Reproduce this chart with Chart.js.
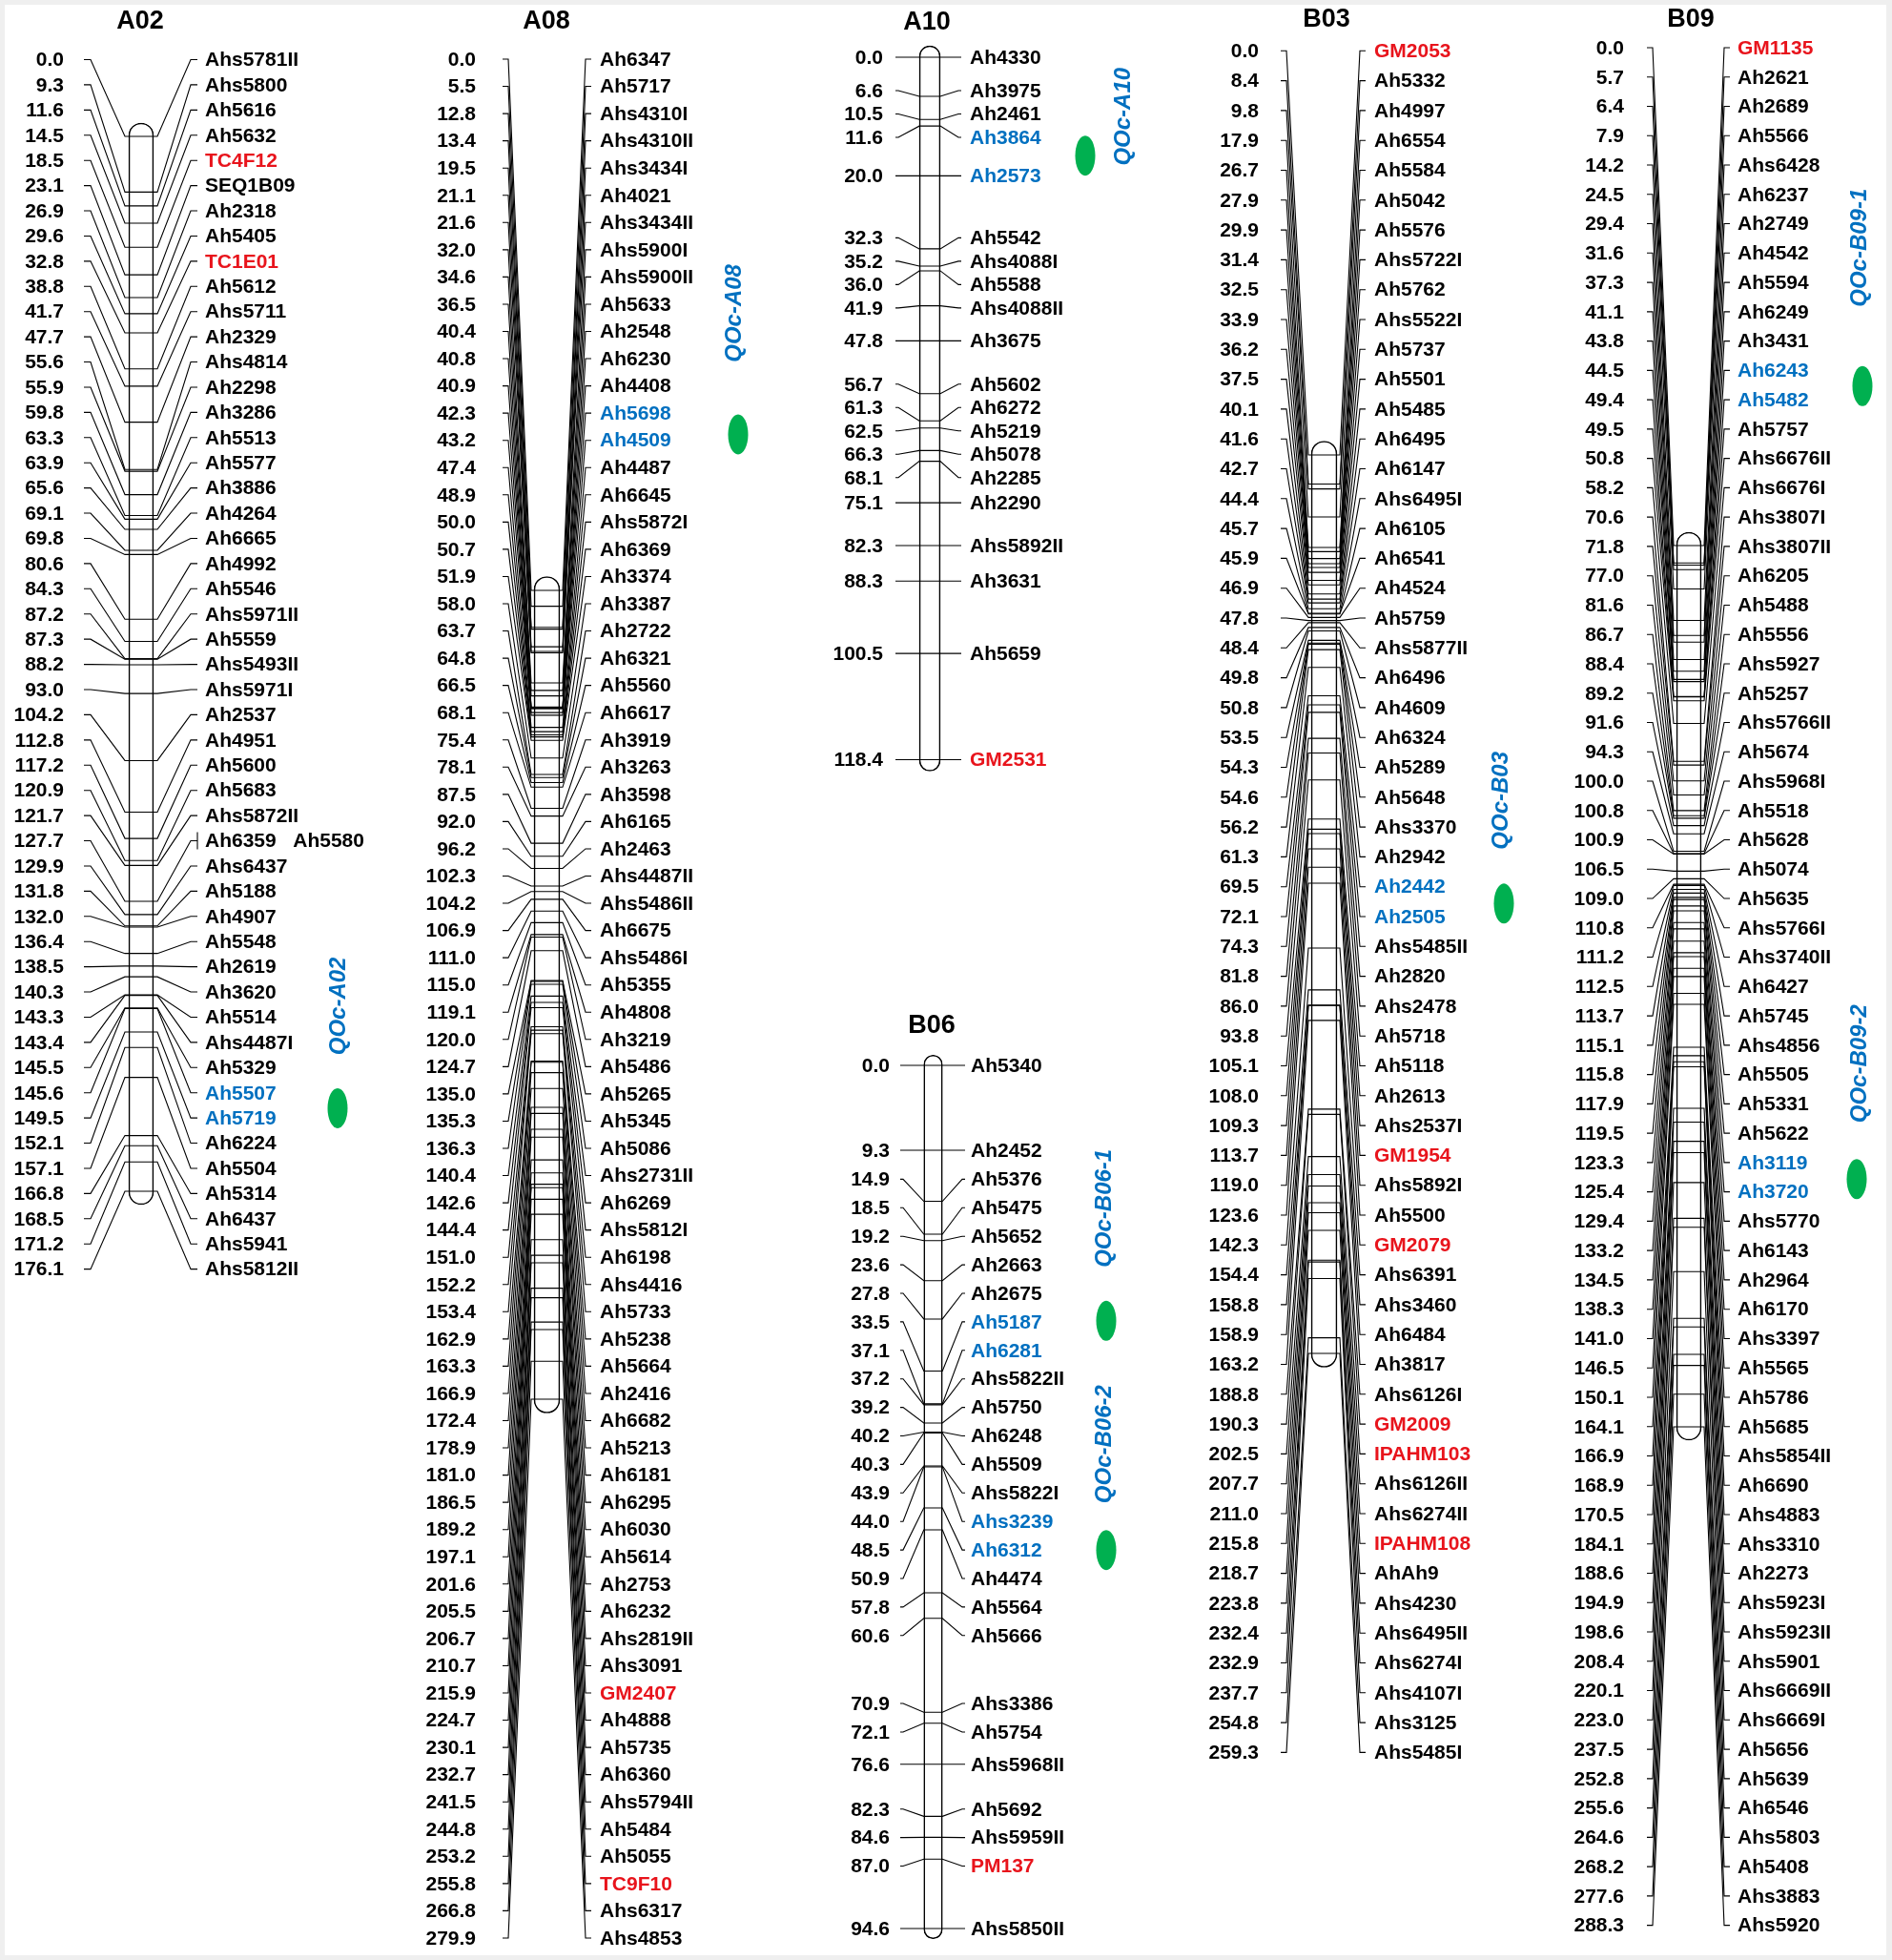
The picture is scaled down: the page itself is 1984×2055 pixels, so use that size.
<!DOCTYPE html>
<html><head><meta charset="utf-8">
<script src="https://cdn.jsdelivr.net/npm/chart.js@4.4.1/dist/chart.umd.min.js"></script>
<style>html,body{margin:0;padding:0;background:#fff;overflow:hidden}#wrap{width:1984px;height:2055px;position:relative}</style>
</head><body><div id="wrap"><canvas id="c"></canvas></div>
<script>
// ===== DATA =====
const chromosomes = ['A02','A08','A10','B06','B03','B09'];

const a02Pos = [0.0,9.3,11.6,14.5,18.5,23.1,26.9,29.6,32.8,38.8,41.7,47.7,55.6,55.9,59.8,63.3,63.9,65.6,69.1,69.8,80.6,84.3,87.2,87.3,88.2,93.0,104.2,112.8,117.2,120.9,121.7,127.7,129.9,131.8,132.0,136.4,138.5,140.3,143.3,143.4,145.5,145.6,149.5,152.1,157.1,166.8,168.5,171.2,176.1];
const a02Names = ['Ahs5781II','Ahs5800','Ah5616','Ah5632','TC4F12','SEQ1B09','Ah2318','Ah5405','TC1E01','Ah5612','Ahs5711','Ah2329','Ahs4814','Ah2298','Ah3286','Ah5513','Ah5577','Ah3886','Ah4264','Ah6665','Ah4992','Ah5546','Ahs5971II','Ah5559','Ahs5493II','Ahs5971I','Ah2537','Ah4951','Ah5600','Ah5683','Ahs5872II','Ah6359   Ah5580','Ahs6437','Ah5188','Ah4907','Ah5548','Ah2619','Ah3620','Ah5514','Ahs4487I','Ah5329','Ah5507','Ah5719','Ah6224','Ah5504','Ah5314','Ah6437','Ahs5941','Ahs5812II'];

const a08Pos = [0.0,5.5,12.8,13.4,19.5,21.1,21.6,32.0,34.6,36.5,40.4,40.8,40.9,42.3,43.2,47.4,48.9,50.0,50.7,51.9,58.0,63.7,64.8,66.5,68.1,75.4,78.1,87.5,92.0,96.2,102.3,104.2,106.9,111.0,115.0,119.1,120.0,124.7,135.0,135.3,136.3,140.4,142.6,144.4,151.0,152.2,153.4,162.9,163.3,166.9,172.4,178.9,181.0,186.5,189.2,197.1,201.6,205.5,206.7,210.7,215.9,224.7,230.1,232.7,241.5,244.8,253.2,255.8,266.8,279.9];
const a08Names = ['Ah6347','Ah5717','Ahs4310I','Ahs4310II','Ahs3434I','Ah4021','Ahs3434II','Ahs5900I','Ahs5900II','Ah5633','Ah2548','Ah6230','Ah4408','Ah5698','Ah4509','Ah4487','Ah6645','Ahs5872I','Ah6369','Ah3374','Ah3387','Ah2722','Ah6321','Ah5560','Ah6617','Ah3919','Ah3263','Ah3598','Ah6165','Ah2463','Ahs4487II','Ahs5486II','Ah6675','Ahs5486I','Ah5355','Ah4808','Ah3219','Ah5486','Ah5265','Ah5345','Ah5086','Ahs2731II','Ah6269','Ahs5812I','Ah6198','Ahs4416','Ah5733','Ah5238','Ah5664','Ah2416','Ah6682','Ah5213','Ah6181','Ah6295','Ah6030','Ah5614','Ah2753','Ah6232','Ahs2819II','Ahs3091','GM2407','Ah4888','Ah5735','Ah6360','Ahs5794II','Ah5484','Ah5055','TC9F10','Ahs6317','Ahs4853'];

const a10Pos = [0.0,6.6,10.5,11.6,20.0,32.3,35.2,36.0,41.9,47.8,56.7,61.3,62.5,66.3,68.1,75.1,82.3,88.3,100.5,118.4];
const a10Names = ['Ah4330','Ah3975','Ah2461','Ah3864','Ah2573','Ah5542','Ahs4088I','Ah5588','Ahs4088II','Ah3675','Ah5602','Ah6272','Ah5219','Ah5078','Ah2285','Ah2290','Ahs5892II','Ah3631','Ah5659','GM2531'];

const b06Pos = [0.0,9.3,14.9,18.5,19.2,23.6,27.8,33.5,37.1,37.2,39.2,40.2,40.3,43.9,44.0,48.5,50.9,57.8,60.6,70.9,72.1,76.6,82.3,84.6,87.0,94.6];
const b06Names = ['Ah5340','Ah2452','Ah5376','Ah5475','Ah5652','Ah2663','Ah2675','Ah5187','Ah6281','Ahs5822II','Ah5750','Ah6248','Ah5509','Ahs5822I','Ahs3239','Ah6312','Ah4474','Ah5564','Ah5666','Ahs3386','Ah5754','Ahs5968II','Ah5692','Ahs5959II','PM137','Ahs5850II'];

const b03Pos = [0.0,8.4,9.8,17.9,26.7,27.9,29.9,31.4,32.5,33.9,36.2,37.5,40.1,41.6,42.7,44.4,45.7,45.9,46.9,47.8,48.4,49.8,50.8,53.5,54.3,54.6,56.2,61.3,69.5,72.1,74.3,81.8,86.0,93.8,105.1,108.0,109.3,113.7,119.0,123.6,142.3,154.4,158.8,158.9,163.2,188.8,190.3,202.5,207.7,211.0,215.8,218.7,223.8,232.4,232.9,237.7,254.8,259.3];
const b03Names = ['GM2053','Ah5332','Ah4997','Ah6554','Ah5584','Ah5042','Ah5576','Ahs5722I','Ah5762','Ahs5522I','Ah5737','Ah5501','Ah5485','Ah6495','Ah6147','Ahs6495I','Ah6105','Ah6541','Ah4524','Ah5759','Ahs5877II','Ah6496','Ah4609','Ah6324','Ah5289','Ah5648','Ahs3370','Ah2942','Ah2442','Ah2505','Ahs5485II','Ah2820','Ahs2478','Ah5718','Ah5118','Ah2613','Ahs2537I','GM1954','Ahs5892I','Ah5500','GM2079','Ahs6391','Ahs3460','Ah6484','Ah3817','Ahs6126I','GM2009','IPAHM103','Ahs6126II','Ahs6274II','IPAHM108','AhAh9','Ahs4230','Ahs6495II','Ahs6274I','Ahs4107I','Ahs3125','Ahs5485I'];

const b09Pos = [0.0,5.7,6.4,7.9,14.2,24.5,29.4,31.6,37.3,41.1,43.8,44.5,49.4,49.5,50.8,58.2,70.6,71.8,77.0,81.6,86.7,88.4,89.2,91.6,94.3,100.0,100.8,100.9,106.5,109.0,110.8,111.2,112.5,113.7,115.1,115.8,117.9,119.5,123.3,125.4,129.4,133.2,134.5,138.3,141.0,146.5,150.1,164.1,166.9,168.9,170.5,184.1,188.6,194.9,198.6,208.4,220.1,223.0,237.5,252.8,255.6,264.6,268.2,277.6,288.3];
const b09Names = ['GM1135','Ah2621','Ah2689','Ah5566','Ahs6428','Ah6237','Ah2749','Ah4542','Ah5594','Ah6249','Ah3431','Ah6243','Ah5482','Ah5757','Ahs6676II','Ahs6676I','Ahs3807I','Ahs3807II','Ah6205','Ah5488','Ah5556','Ahs5927','Ah5257','Ahs5766II','Ah5674','Ahs5968I','Ah5518','Ah5628','Ah5074','Ah5635','Ahs5766I','Ahs3740II','Ah6427','Ah5745','Ahs4856','Ah5505','Ah5331','Ah5622','Ah3119','Ah3720','Ahs5770','Ah6143','Ah2964','Ah6170','Ahs3397','Ah5565','Ah5786','Ah5685','Ahs5854II','Ah6690','Ahs4883','Ahs3310','Ah2273','Ahs5923I','Ahs5923II','Ahs5901','Ahs6669II','Ahs6669I','Ah5656','Ah5639','Ah6546','Ahs5803','Ah5408','Ahs3883','Ahs5920'];

const redMarkers = ['TC4F12','TC1E01','GM2407','TC9F10','GM2531','PM137','GM2053','GM1954','GM2079','GM2009','IPAHM103','IPAHM108','GM1135'];
const blueMarkers = ['Ah5507','Ah5719','Ah5698','Ah4509','Ah3864','Ah2573','Ah5187','Ah6281','Ahs3239','Ah6312','Ah2442','Ah2505','Ah6243','Ah5482','Ah3119','Ah3720'];

const qtlNames  = ['QOc-A02','QOc-A08','QOc-A10','QOc-B06-1','QOc-B06-2','QOc-B03','QOc-B09-1','QOc-B09-2'];
const qtlChrom  = ['A02','A08','A10','B06','B06','B03','B09','B09'];
const qtlFlank1 = ['Ah5507','Ah5698','Ah3864','Ah5187','Ahs3239','Ah2442','Ah6243','Ah3119'];
const qtlFlank2 = ['Ah5719','Ah4509','Ah2573','Ah6281','Ah6312','Ah2505','Ah5482','Ah3720'];

// ===== LAYOUT / STYLE =====
const W = 1984, H = 2055;
const LAYOUT = {
  A02:{cx:148, w:26, t0:143, t1:1249, numX:67, lx0:88, lx1:95, ext:4, rx0:200, rx1:207, nameX:215, rowTop:62.5, rowGap:26.42, titleX:147, titleY:22},
  A08:{cx:573.5, w:27, t0:619, t1:1467, numX:499, lx0:527, lx1:533, ext:3, rx0:614, rx1:620, nameX:629, rowTop:62, rowGap:28.55, titleX:573, titleY:22},
  A10:{cx:975, w:22, t0:60, t1:796.5, numX:926, lx0:939, lx1:942, ext:0, rx0:1005, rx1:1008, nameX:1017, gap:24.5, titleX:972, titleY:23},
  B06:{cx:978.5, w:19.5, t0:1117, t1:2022, numX:933, lx0:944, lx1:947, ext:0, rx0:1009, rx1:1012, nameX:1018, gap:29.9, titleX:977, titleY:1075},
  B03:{cx:1388.5, w:27, t0:477, t1:1419, numX:1320, lx0:1343, lx1:1349, ext:3, rx0:1426, rx1:1432, nameX:1441, rowTop:53.3, rowGap:31.3, titleX:1391, titleY:20},
  B09:{cx:1771, w:26, t0:572, t1:1496, numX:1703, lx0:1727, lx1:1733, ext:3, rx0:1808, rx1:1814, nameX:1822, rowTop:50, rowGap:30.76, titleX:1773, titleY:20}
};
const QTL_LAYOUT = [
  {ex:354, nudge:3, tx:355, tdy:-107},
  {ex:774, nudge:8, tx:770, tdy:-127},
  {ex:1138, nudge:-1, tx:1178, tdy:-41},
  {ex:1160, nudge:-16, tx:1158, tdy:-118},
  {ex:1160, nudge:15, tx:1158, tdy:-111},
  {ex:1577, nudge:2, tx:1574, tdy:-108},
  {ex:1953, nudge:1, tx:1950, tdy:-145},
  {ex:1947, nudge:2, tx:1950, tdy:-121}
];
const FONT = '"Liberation Sans", Arial, sans-serif';
const COL_RED = '#E8141C', COL_BLUE = '#0070C0', COL_GREEN = '#00B050';

const dataByChrom = {
  A02:{pos:a02Pos, names:a02Names}, A08:{pos:a08Pos, names:a08Names}, A10:{pos:a10Pos, names:a10Names},
  B06:{pos:b06Pos, names:b06Names}, B03:{pos:b03Pos, names:b03Names}, B09:{pos:b09Pos, names:b09Names}
};

// ===== SCALES & DATASETS =====
const scales = { x:{type:'linear', display:false, min:0, max:W, bounds:'data', offset:false, grid:{offset:false}} };
const datasets = [];
chromosomes.forEach(id => {
  const L = LAYOUT[id], d = dataByChrom[id];
  const maxCM = d.pos[d.pos.length-1];
  const range = maxCM * H / (L.t1 - L.t0);
  const min = -L.t0 * range / H;
  scales['c'+id] = {type:'linear', display:false, reverse:true, min:min, max:min+range, bounds:'data', offset:false};
  if (L.rowTop != null) {
    const rmin = -L.rowTop / L.rowGap;
    scales['r'+id] = {type:'linear', display:false, reverse:true, min:rmin, max:rmin + H / L.rowGap, bounds:'data', offset:false};
  }
  const pad = (L.w/2 + 1) * maxCM / (L.t1 - L.t0);
  datasets.push({
    type:'bar', label:id, data:[{x:L.cx, y:[-pad, maxCM + pad]}],
    xAxisID:'x', yAxisID:'c'+id, barThickness:L.w, grouped:false,
    backgroundColor:'#ffffff', borderColor:'#000000', borderWidth:1.6,
    borderRadius:L.w/2, borderSkipped:false
  });
});

function declutter(t, gap){
  let g = t.map((v,i)=>({s:i, n:1, sum:v}));
  let merged = true;
  while (merged) {
    merged = false;
    for (let k=0; k<g.length-1; k++) {
      const a=g[k], b=g[k+1];
      const aLast = a.sum/a.n + (a.n-1)*gap/2;
      const bFirst = b.sum/b.n - (b.n-1)*gap/2;
      if (bFirst - aLast < gap - 0.01) {
        g.splice(k, 2, {s:a.s, n:a.n+b.n, sum:a.sum+b.sum});
        merged = true; break;
      }
    }
  }
  const out = [];
  g.forEach(o => { const c=o.sum/o.n; for (let j=0;j<o.n;j++) out[o.s+j] = c - (o.n-1)*gap/2 + j*gap; });
  return out;
}

const mapPlugin = {
  id:'linkageMap',
  beforeDraw(chart){
    const c = chart.ctx;
    c.save();
    c.fillStyle = '#efefef'; c.fillRect(0,0,chart.width,chart.height);
    c.fillStyle = '#ffffff'; c.fillRect(5,5,chart.width-11,chart.height-10);
    c.restore();
  },
  afterDatasetsDraw(chart){
    const ctx = chart.ctx;
    const rowsBy = {};
    chromosomes.forEach(id => {
      const L = LAYOUT[id], d = dataByChrom[id];
      const cs = chart.scales['c'+id];
      const ticks = d.pos.map(v => cs.getPixelForValue(v));
      let rows;
      if (L.rowTop != null) { const rs = chart.scales['r'+id]; rows = d.pos.map((v,i) => rs.getPixelForValue(i)); }
      else rows = declutter(ticks, L.gap);
      rowsBy[id] = rows;
      const bl = L.cx - L.w/2 - L.ext, br = L.cx + L.w/2 + L.ext;
      ctx.save();
      ctx.strokeStyle = '#000'; ctx.lineWidth = 1.1; ctx.lineJoin = 'miter';
      ticks.forEach((ty,i) => {
        const ry = rows[i];
        ctx.beginPath();
        ctx.moveTo(L.lx0, ry); ctx.lineTo(L.lx1, ry); ctx.lineTo(bl, ty);
        ctx.lineTo(br, ty); ctx.lineTo(L.rx0, ry); ctx.lineTo(L.rx1, ry);
        ctx.stroke();
        if (/\s/.test(d.names[i])) {
          ctx.beginPath(); ctx.moveTo(L.rx1, ry-9); ctx.lineTo(L.rx1, ry+9); ctx.stroke();
        }
      });
      ctx.font = 'bold 21px ' + FONT;
      ctx.textBaseline = 'middle';
      ctx.textAlign = 'right'; ctx.fillStyle = '#000';
      d.pos.forEach((v,i) => ctx.fillText(v.toFixed(1), L.numX, rows[i] + 1));
      ctx.textAlign = 'left';
      d.names.forEach((nm,i) => {
        ctx.fillStyle = redMarkers.includes(nm) ? COL_RED : (blueMarkers.includes(nm) ? COL_BLUE : '#000');
        ctx.fillText(nm, L.nameX, rows[i] + 1);
      });
      ctx.font = 'bold 27px ' + FONT; ctx.textAlign = 'center'; ctx.fillStyle = '#000';
      ctx.fillText(id, L.titleX, L.titleY + 1);
      ctx.restore();
    });
    qtlNames.forEach((q,k) => {
      const id = qtlChrom[k], d = dataByChrom[id], rows = rowsBy[id], QL = QTL_LAYOUT[k];
      const ia = d.names.indexOf(qtlFlank1[k]), ib = d.names.indexOf(qtlFlank2[k]);
      const ey = (rows[ia] + rows[ib]) / 2 + QL.nudge;
      ctx.save();
      ctx.fillStyle = COL_GREEN;
      ctx.beginPath(); ctx.ellipse(QL.ex, ey, 10.5, 21, 0, 0, Math.PI*2); ctx.fill();
      ctx.translate(QL.tx, ey + QL.tdy); ctx.rotate(-Math.PI/2);
      ctx.font = 'italic bold 24px ' + FONT; ctx.fillStyle = COL_BLUE;
      ctx.textAlign = 'center'; ctx.textBaseline = 'middle';
      ctx.fillText(q, 0, 0);
      ctx.restore();
    });
  }
};

new Chart(document.getElementById('c'), {
  type:'bar',
  data:{ datasets: datasets },
  options:{
    responsive:true, maintainAspectRatio:false, animation:false,
    layout:{padding:0},
    plugins:{ legend:{display:false}, tooltip:{enabled:false}, title:{display:false} },
    scales: scales
  },
  plugins:[mapPlugin]
});
</script>
</body></html>
